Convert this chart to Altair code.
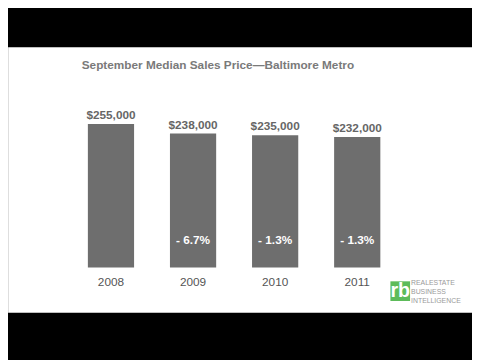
import altair as alt
import pandas as pd

years = ["2008", "2009", "2010", "2011"]
prices = [255000, 238000, 235000, 232000]
price_labels = ["$255,000", "$238,000", "$235,000", "$232,000"]
changes = ["", "- 6.7%", "- 1.3%", "- 1.3%"]
title_text = "September Median Sales Price\u2014Baltimore Metro"
logo_lines = ["REALESTATE", "BUSINESS", "INTELLIGENCE"]

df = pd.DataFrame({"year": years, "price": prices, "label": price_labels, "change": changes})

W, H = 472, 352
FONT = "Liberation Sans"

x = alt.X("year:N", scale=alt.Scale(domain=years, range=[63, 397], paddingInner=0.437, paddingOuter=0.2185), axis=None)
y = alt.Y("price:Q", scale=alt.Scale(domain=[0, 255000], range=[261, 115], zero=True, nice=False), axis=None)

base = alt.Chart(df)

top_band = alt.Chart(pd.DataFrame({"a": [0]})).mark_rect(color="black").encode(
    x=alt.value(-10), x2=alt.value(W + 10), y=alt.value(-10), y2=alt.value(37))
bottom_band = alt.Chart(pd.DataFrame({"a": [0]})).mark_rect(color="black").encode(
    x=alt.value(-10), x2=alt.value(W + 10), y=alt.value(307), y2=alt.value(H + 10))

bars = base.mark_bar(color="#6e6e6e").encode(x=x, y=y)

vals = base.mark_text(font=FONT, fontSize=12, fontWeight="bold", color="#666666",
                      baseline="bottom", dy=-2).encode(x=x, y=y, text="label:N")

pct = base.mark_text(font=FONT, fontSize=12, fontWeight="bold", color="white",
                     baseline="middle").encode(x=x, y=alt.value(233), text="change:N")

yrs = base.mark_text(font=FONT, fontSize=12, color="#555555",
                     baseline="middle").encode(x=x, y=alt.value(276), text="year:N")

title = alt.Chart(pd.DataFrame({"t": [title_text]})).mark_text(
    font=FONT, fontSize=12, fontWeight="bold", color="#7a7a7a", align="left", baseline="middle"
).encode(x=alt.value(75), y=alt.value(55), text="t:N")

logo_box = alt.Chart(pd.DataFrame({"a": [0]})).mark_rect(color="#5dbb5a").encode(
    x=alt.value(389), x2=alt.value(409), y=alt.value(275), y2=alt.value(295))
logo_rb = alt.Chart(pd.DataFrame({"t": ["rb"]})).mark_text(
    font=FONT, fontSize=20, fontWeight="bold", color="white", baseline="middle", align="center"
).encode(x=alt.value(399), y=alt.value(285), text="t:N")

logo_df = pd.DataFrame({"t": logo_lines, "yy": [277, 286, 295]})
logo_text = alt.Chart(logo_df).mark_text(
    font=FONT, fontSize=7, color="#9a9a9a", align="left", baseline="middle"
).encode(x=alt.value(410), y=alt.Y("yy:Q", scale=None), text="t:N")

chart = alt.layer(top_band, bottom_band, bars, vals, pct, yrs, title,
                  logo_box, logo_rb, logo_text).properties(
    width=W, height=H, autosize=alt.AutoSizeParams(type="none"), padding=0
).configure_view(stroke=None).configure(background="white")

chart.save("out.html", embed_options={"renderer": "svg", "actions": False})
